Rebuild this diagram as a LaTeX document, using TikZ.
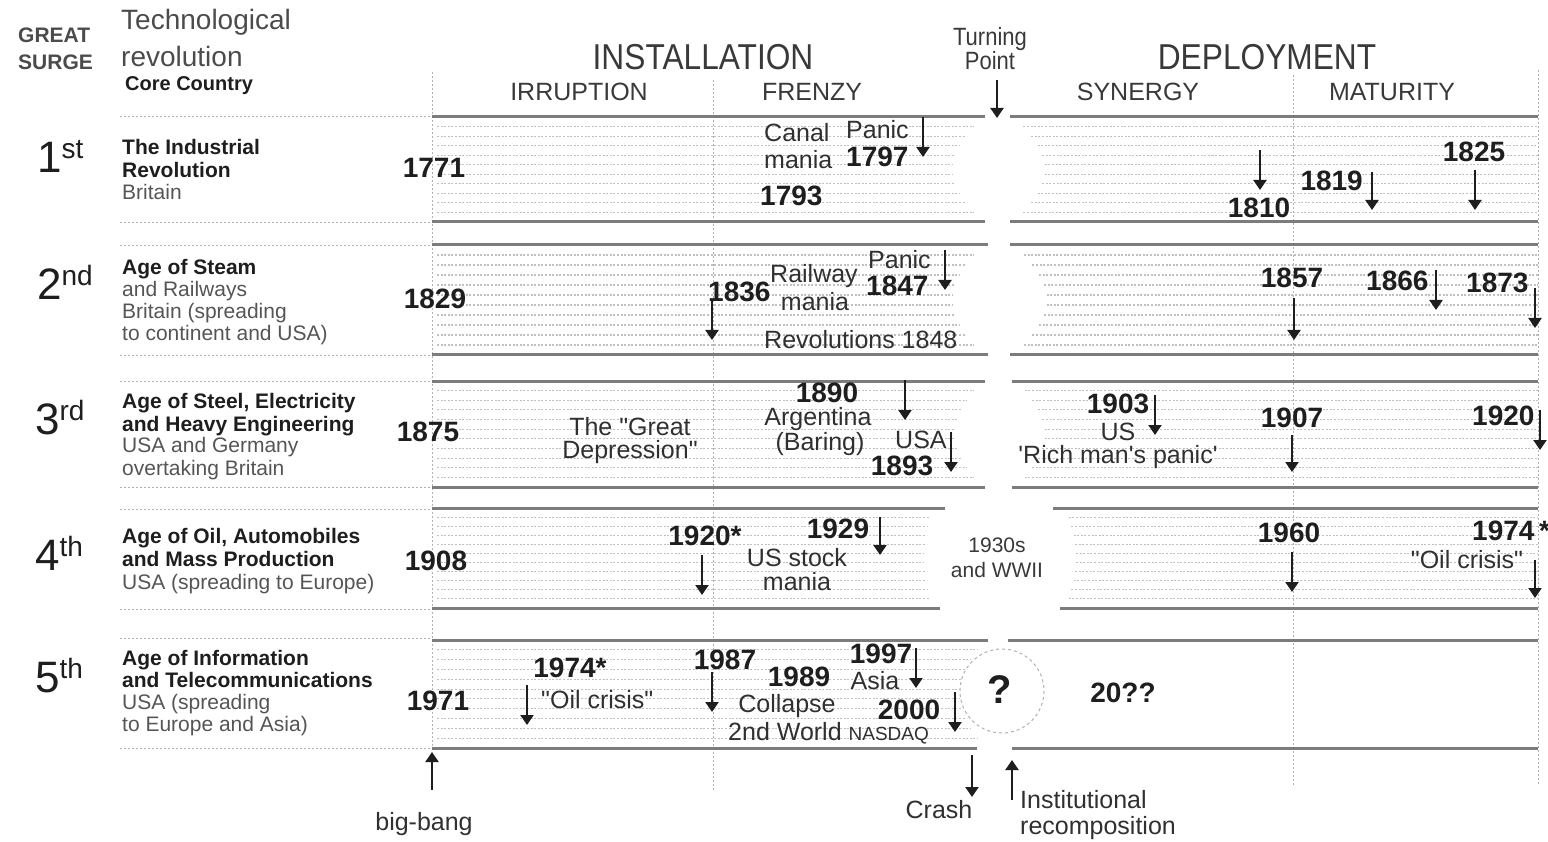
\documentclass[tikz,border=0pt]{standalone}
\usepackage{fontspec}
\setmainfont{Liberation Sans}[Ligatures=TeXOff]
\newfontfamily\condf{Liberation Sans}[FakeStretch=0.88,Ligatures=TeXOff]
\usetikzlibrary{arrows.meta}
\definecolor{ink}{HTML}{1E1E1E}
\definecolor{sub}{HTML}{555555}
\definecolor{bandc}{HTML}{7C7C7C}
\definecolor{fillc}{HTML}{C0C0C0}
\definecolor{gridc}{HTML}{B0B0B0}
\newcommand\dq{"}
\newcommand\sq{'}

\newcommand\lbandd[7]{%
 \draw[bandline] (#3,#1) -- (#4,#1);
 \draw[bandline] (#3,#2) -- (#5,#2);
 \foreach \i in {1,...,10}{%
   \pgfmathsetmacro\yy{#1+\i*(#2-#1)/11}%
   \pgfmathsetmacro\xx{#6-#7*sin(180*\i/11)}%
   \draw[fillline] (#3+5,\yy) -- (\xx,\yy);}}
\newcommand\rbandd[7]{%
 \draw[bandline] (#3,#1) -- (#7,#1);
 \draw[bandline] (#4,#2) -- (#7,#2);
 \foreach \i in {1,...,10}{%
   \pgfmathsetmacro\yy{#1+\i*(#2-#1)/11}%
   \pgfmathsetmacro\xx{#5+#6*sin(180*\i/11)}%
   \draw[fillline] (\xx,\yy) -- (#7,\yy);}}
\newcommand\darr[3]{\draw[arr] (#1,#2) -- (#1,#3);}

\begin{document}
\begin{tikzpicture}[x=1pt,y=-1pt,
  bandline/.style={bandc,line width=3pt},
  fillline/.style={fillc,line width=1.1pt,dash pattern=on 2pt off 1.6pt},
  grid/.style={gridc,line width=0.9pt,dash pattern=on 2pt off 2pt},
  arr/.style={ink,line width=2.2pt,-{Triangle[width=13pt,length=10pt]}},
  yr/.style={inner sep=0pt,text=ink,font=\bfseries\fontsize{28}{28}\selectfont},
  tx/.style={inner sep=0pt,text=ink!92,font=\fontsize{25}{25}\selectfont},
  desc/.style={anchor=base west,inner sep=0pt,text=ink,font=\bfseries\fontsize{21}{23}\selectfont},
  descs/.style={anchor=base west,inner sep=0pt,text=sub,font=\fontsize{21}{23}\selectfont},
  ord/.style={anchor=base west,inner sep=0pt,text=ink,font=\fontsize{44}{44}\selectfont},
  phase/.style={inner sep=0pt,text=ink!88,font=\fontsize{25}{25}\selectfont},
  big/.style={inner sep=0pt,text=ink!88,font=\condf\fontsize{36}{36}\selectfont},
]
\useasboundingbox (0,0) rectangle (1548,842);

% ---------- grid lines ----------
\draw[grid] (432,72) -- (432,752);
\draw[grid] (713,80) -- (713,790);
\draw[grid] (1293,75) -- (1293,785);
\draw[grid] (1538,70) -- (1538,785);
\foreach \yy in {116,222,245,355,381,487,509,609,638,748}
  \draw[grid] (120,\yy) -- (432,\yy);

% ---------- bands ----------
\lbandd{117}{222}{432}{985}{985}{982}{30}
\rbandd{117}{222}{1010}{1010}{1015}{30}{1538}
\lbandd{245}{355}{432}{988}{988}{982}{30}
\rbandd{245}{355}{1010}{1010}{1015}{32}{1538}
\lbandd{381}{487}{432}{985}{985}{982}{28}
\rbandd{381}{487}{1012}{1012}{1017}{28}{1538}
\lbandd{508}{608}{432}{945}{940}{932}{8}
\rbandd{508}{608}{1053}{1060}{1066}{10}{1538}
\lbandd{640}{748}{432}{988}{977}{985}{26}
\draw[bandline] (1008,640) -- (1538,640);
\draw[bandline] (1012,748) -- (1538,748);
\draw[gridc,line width=1pt,dash pattern=on 3pt off 3pt] (1002,691) circle[radius=42];

% ---------- header ----------
\node[anchor=west,inner sep=0pt,text=ink!80,font=\bfseries\fontsize{21}{21}\selectfont] (great) at (18,35) {GREAT};
\node[anchor=west,inner sep=0pt,text=ink!80,font=\bfseries\fontsize{21}{21}\selectfont] (surge) at (18,62) {SURGE};
\node[anchor=west,inner sep=0pt,text=ink!80,font=\fontsize{28}{28}\selectfont] (tech) at (121,22) {Technological};
\node[anchor=west,inner sep=0pt,text=ink!80,font=\fontsize{28}{28}\selectfont] (rev) at (121,56) {revolution};
\node[anchor=west,inner sep=0pt,text=ink,font=\bfseries\fontsize{20}{20}\selectfont] (core) at (125,86) {Core Country};
\node[big] (inst) at (703,57) {INSTALLATION};
\node[big] (depl) at (1267,57) {DEPLOYMENT};
\node[inner sep=0pt,text=ink!88,align=center,font=\condf\fontsize{25}{24}\selectfont] (turn) at (990,49) {Turning\\Point};
\node[phase] (irr) at (579,92) {IRRUPTION};
\node[phase] (fre) at (812,92) {FRENZY};
\node[phase] (syn) at (1138,92) {SYNERGY};
\node[phase] (mat) at (1392,92) {MATURITY};
\coordinate (turnA) at (997,80);
\coordinate (turnB) at (997,118);
\draw[arr] (turnA) -- (turnB);

% ---------- row labels ----------
\node[ord] (o1) at (37,173) {1\raisebox{14pt}{\fontsize{28}{28}\selectfont st}};
\node[ord] (o2) at (37,300) {2\raisebox{14pt}{\fontsize{28}{28}\selectfont nd}};
\node[ord] (o3) at (35,434) {3\raisebox{14pt}{\fontsize{28}{28}\selectfont rd}};
\node[ord] (o4) at (35,570) {4\raisebox{14pt}{\fontsize{28}{28}\selectfont th}};
\node[ord] (o5) at (35,692) {5\raisebox{14pt}{\fontsize{28}{28}\selectfont th}};

\node[desc] (d1a) at (122,155) {The Industrial};
\node[desc] (d1b) at (122,178) {Revolution};
\node[descs] (d1c) at (122,200) {Britain};

\node[desc] (d2a) at (122,275) {Age of Steam};
\node[descs] (d2b) at (122,297) {and Railways};
\node[descs] (d2c) at (122,319) {Britain (spreading};
\node[descs] (d2d) at (122,341) {to continent and USA)};

\node[desc] (d3a) at (122,408) {Age of Steel, Electricity};
\node[desc] (d3b) at (122,431) {and Heavy Engineering};
\node[descs] (d3c) at (122,452) {USA and Germany};
\node[descs] (d3d) at (122,475) {overtaking Britain};

\node[desc] (d4a) at (122,543) {Age of Oil, Automobiles};
\node[desc] (d4b) at (122,566) {and Mass Production};
\node[descs] (d4c) at (122,589) {USA (spreading to Europe)};

\node[desc] (d5a) at (122,665) {Age of Information};
\node[desc] (d5b) at (122,687) {and Telecommunications};
\node[descs] (d5c) at (122,709) {USA (spreading};
\node[descs] (d5d) at (122,731) {to Europe and Asia)};

% ---------- row 1 ----------
\node[yr] (y1771) at (434,168) {1771};
\node[tx,anchor=west] (canal) at (764,133) {Canal};
\node[tx,anchor=west] (mania1) at (764,160) {mania};
\node[tx,anchor=west] (panic1) at (846,130) {Panic};
\node[yr,anchor=west] (y1797) at (846,157) {1797};
\darr{923}{117}{157}
\node[yr,anchor=west] (y1793) at (760,196) {1793};
\darr{1260}{150}{190}
\node[yr] (y1810) at (1259,208) {1810};
\node[yr,anchor=east] (y1819) at (1363,181) {1819};
\darr{1372}{172}{210}
\node[yr] (y1825) at (1474,152) {1825};
\darr{1475}{170}{210}

% ---------- row 2 ----------
\node[yr] (y1829) at (435,299) {1829};
\node[yr,anchor=west] (y1836) at (708,292) {1836};
\darr{712}{300}{340}
\node[tx,anchor=west] (railway) at (770,276) {Railway};
\node[tx] (mania2) at (815,302) {mania};
\node[tx,anchor=west] (panic2) at (868,260) {Panic};
\node[yr,anchor=west] (y1847) at (866,286) {1847};
\darr{945}{250}{290}
\node[tx,anchor=west] (rev1848) at (764,340) {Revolutions 1848};
\node[yr] (y1857) at (1292,278) {1857};
\darr{1294}{298}{340}
\node[yr,anchor=west] (y1866) at (1366,281) {1866};
\darr{1436}{270}{310}
\node[yr,anchor=west] (y1873) at (1466,283) {1873};
\darr{1535}{288}{328}

% ---------- row 3 ----------
\node[yr] (y1875) at (428,432) {1875};
\node[tx] (great1) at (630,427) {The \dq Great};
\node[tx] (great2) at (630,452) {Depression\dq};
\node[yr] (y1890) at (827,393) {1890};
\node[tx] (arg) at (818,419) {Argentina};
\node[tx] (baring) at (820,444) {(Baring)};
\darr{905}{380}{420}
\node[tx,anchor=west] (usa3) at (895,440) {USA};
\node[yr] (y1893) at (902,466) {1893};
\darr{951}{432}{472}
\node[yr] (y1903) at (1118,404) {1903};
\darr{1155}{395}{435}
\node[tx] (us3) at (1118,432) {US};
\node[tx] (rich) at (1118,457) {\sq Rich man\sq s panic\sq};
\node[yr] (y1907) at (1292,418) {1907};
\darr{1292}{435}{472}
\node[yr,anchor=west] (y1920b) at (1472,416) {1920};
\darr{1540}{410}{450}

% ---------- row 4 ----------
\node[yr] (y1908) at (436,561) {1908};
\node[yr] (y1920a) at (705,536) {1920*};
\darr{702}{555}{595}
\node[yr] (y1929) at (838,529) {1929};
\darr{880}{517}{555}
\node[tx] (usstock) at (797,558) {US stock};
\node[tx] (mania4) at (797,582) {mania};
\node[inner sep=0pt,text=ink!88,font=\fontsize{21}{21}\selectfont] (y1930s) at (997,545) {1930s};
\node[inner sep=0pt,text=ink!88,font=\fontsize{21}{21}\selectfont] (wwii) at (997,570) {and WWII};
\node[yr] (y1960) at (1289,533) {1960};
\darr{1292}{552}{592}
\node[yr,anchor=west] (y1974b) at (1472,531) {1974\,*};
\node[tx] (oil4) at (1467,560) {\dq Oil crisis\dq};
\darr{1535}{560}{598}

% ---------- row 5 ----------
\node[yr] (y1971) at (438,701) {1971};
\node[yr] (y1974a) at (570,668) {1974*};
\darr{527}{685}{725}
\node[tx,anchor=west] (oil5) at (541,700) {\dq Oil crisis\dq};
\node[yr] (y1987) at (725,660) {1987};
\darr{712}{672}{712}
\node[yr] (y1989) at (799,677) {1989};
\node[tx] (collapse) at (787,706) {Collapse};
\node[tx,anchor=west] (world) at (728,733) {2nd World {\fontsize{19}{19}\selectfont NASDAQ}};
\node[yr] (y1997) at (881,654) {1997};
\darr{916}{648}{688}
\node[tx] (asia) at (875,681) {Asia};
\node[yr] (y2000) at (909,710) {2000};
\darr{955}{692}{732}
\node[inner sep=0pt,text=ink,font=\bfseries\fontsize{40}{40}\selectfont] (qm) at (1000,690) {?};
\node[yr] (y20xx) at (1123,693) {20??};

% ---------- bottom ----------
\node[tx] (bigbang) at (424,824) {big-bang};
\coordinate (bbA) at (432,790);
\coordinate (bbB) at (432,752);
\draw[arr] (bbA) -- (bbB);
\node[tx] (crash) at (939,810) {Crash};
\coordinate (crA) at (972,755);
\coordinate (crB) at (972,797);
\draw[arr] (crA) -- (crB);
\node[tx,anchor=west] (inst1) at (1020,800) {Institutional};
\node[tx,anchor=west] (inst2) at (1020,828) {recomposition};
\coordinate (irA) at (1012,800);
\coordinate (irB) at (1012,760);
\draw[arr] (irA) -- (irB);
\end{tikzpicture}
\end{document}
